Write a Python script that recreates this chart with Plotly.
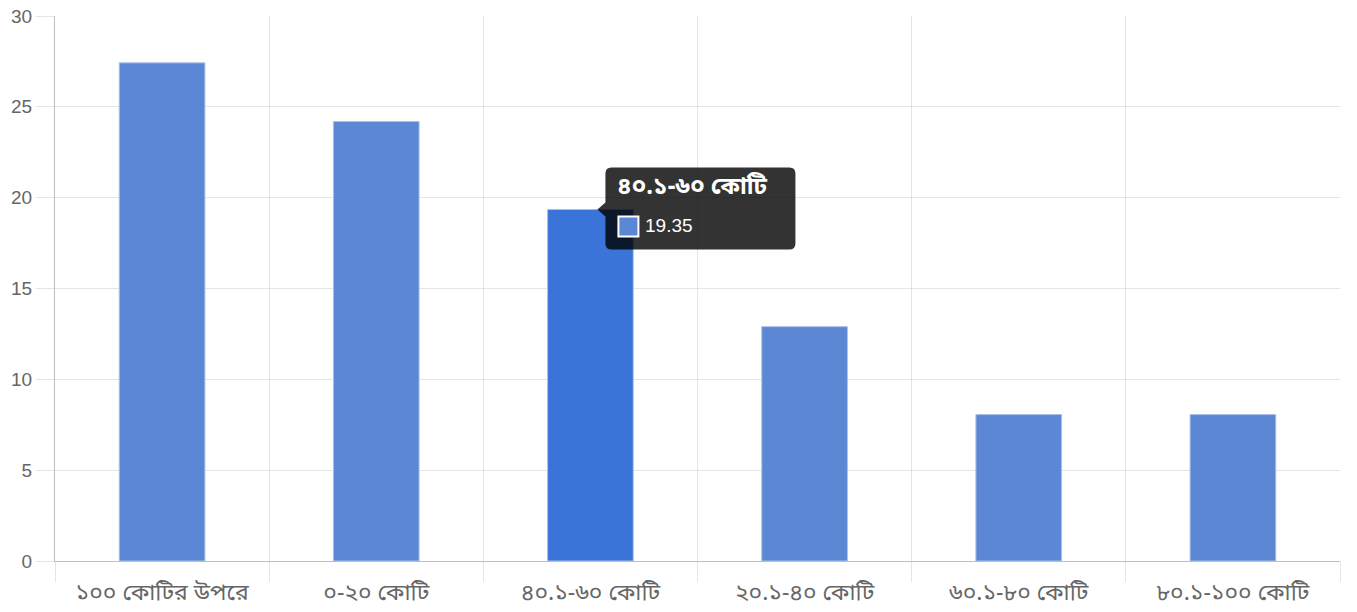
import plotly.graph_objects as go

# Share of items per budget band (percent)
categories = ["১০০ কোটির উপরে", "০-২০ কোটি", "৪০.১-৬০ কোটি", "২০.১-৪০ কোটি", "৬০.১-৮০ কোটি", "৮০.১-১০০ কোটি"]
values = [27.42, 24.19, 19.35, 12.90, 8.06, 8.06]
y_ticks = [0, 5, 10, 15, 20, 25, 30]

active = 2  # bar with the tooltip open

bar_color = "#5b87d4"
active_color = "#3a74d8"
colors = [active_color if i == active else bar_color for i in range(len(values))]

num_font = "Liberation Sans, Arial, sans-serif"
bn_font = "Noto Sans Bengali, Lohit Bengali, Vrinda, Noto Sans, sans-serif"

fig = go.Figure(go.Bar(
    x=categories,
    y=values,
    marker=dict(color=colors, line=dict(color="#a9c1ea", width=1)),
    hoverinfo="skip",
))

# Tooltip: rounded box with a caret pointing at the active bar's top centre
r = 6
left, right, top, bottom = 15, 205, 42, -40
box = (
    f"M 7 0 L {left} 7 L {left} {top - r} Q {left} {top} {left + r} {top} "
    f"L {right - r} {top} Q {right} {top} {right} {top - r} "
    f"L {right} {bottom + r} Q {right} {bottom} {right - r} {bottom} "
    f"L {left + r} {bottom} Q {left} {bottom} {left} {bottom + r} "
    f"L {left} -7 Z"
)
fig.add_shape(
    type="path", xref="x", yref="y",
    xsizemode="pixel", ysizemode="pixel",
    xanchor=active, yanchor=values[active],
    path=box,
    fillcolor="rgba(0,0,0,0.8)", line=dict(width=0), layer="above",
)
fig.add_shape(
    type="rect", xref="x", yref="y",
    xsizemode="pixel", ysizemode="pixel",
    xanchor=active, yanchor=values[active],
    x0=28, x1=48, y0=-7, y1=-27,
    fillcolor=bar_color, line=dict(color="white", width=2), layer="above",
)
fig.add_annotation(
    x=active, y=values[active], xref="x", yref="y",
    text=f"<b>{categories[active]}</b>", showarrow=False,
    xanchor="left", yanchor="middle", xshift=25, yshift=21,
    font=dict(family=bn_font, size=24, color="white"),
)
fig.add_annotation(
    x=active, y=values[active], xref="x", yref="y",
    text=f"{values[active]:.2f}", showarrow=False,
    xanchor="left", yanchor="middle", xshift=53, yshift=-16,
    font=dict(family=num_font, size=19, color="white"),
)

grid = "rgba(0,0,0,0.1)"
fig.update_layout(
    width=1357, height=612,
    margin=dict(l=55, r=17, t=16, b=51),
    paper_bgcolor="white", plot_bgcolor="white",
    bargap=0.6, showlegend=False, hovermode=False,
    xaxis=dict(
        type="category", tickson="boundaries", automargin=False,
        showgrid=True, gridcolor=grid, gridwidth=1,
        ticks="outside", ticklen=20, tickcolor=grid,
        ticklabelstandoff=10,
        showline=True, linecolor="rgba(0,0,0,0.25)", linewidth=1,
        tickfont=dict(family=bn_font, size=23, color="#666"),
        range=[-0.5, len(categories) - 0.5],
    ),
    yaxis=dict(
        range=[0, 30], tickvals=y_ticks, automargin=False,
        showgrid=True, gridcolor=grid, gridwidth=1,
        ticks="outside", ticklen=18, tickcolor=grid,
        showline=True, linecolor="rgba(0,0,0,0.25)", linewidth=1,
        zeroline=False,
        tickfont=dict(family=num_font, size=19, color="#666"),
    ),
)

fig.write_html("out.html")
